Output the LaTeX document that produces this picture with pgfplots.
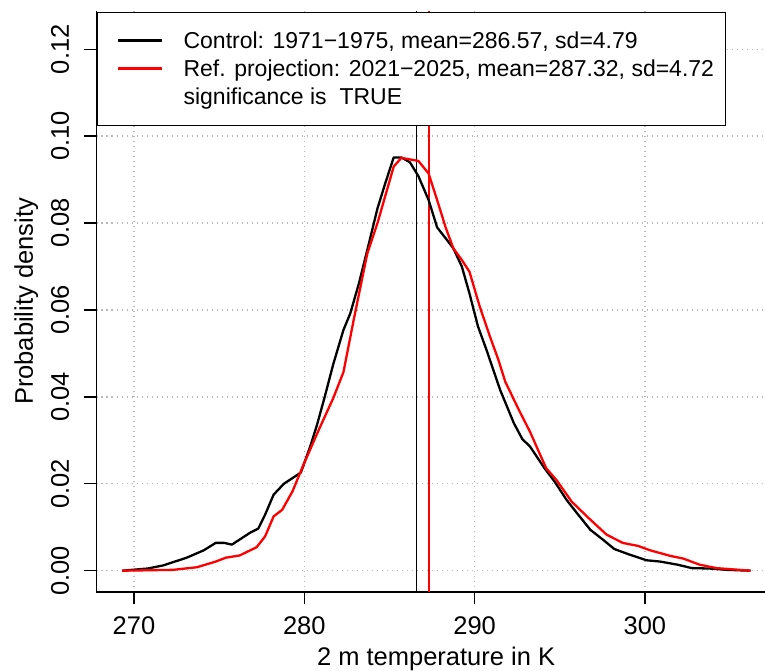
\documentclass[border=0pt]{standalone}
\usepackage{fontspec}
\setmainfont{Liberation Sans}
\usepackage{pgfplots}
\pgfplotsset{compat=1.18}
\begin{document}
\begin{tikzpicture}
\begin{scope}
\clip (-96.5pt,-79pt) rectangle (668.5pt,592pt);
\begin{axis}[
  at={(0pt,0pt)}, anchor=south west,
  scale only axis, width=679.2pt, height=581pt,
  xmin=267.8, xmax=307.68, ymin=-0.0049, ymax=0.1288,
  axis x line*=bottom, axis y line*=left,
  axis line style={-, line width=1.8pt, black},
  xtick={270,280,290,300},
  ytick={0,0.02,0.04,0.06,0.08,0.10,0.12},
  scaled y ticks=false,
  yticklabel style={/pgf/number format/fixed, /pgf/number format/fixed zerofill, /pgf/number format/precision=2},
  /pgf/number format/assume math mode=true,
  tick align=outside, major tick length=12pt,
  tick style={black, line width=1.3pt},
  ticklabel style={font=\fontsize{25.5}{30}\selectfont, inner sep=0pt},
  xticklabel style={anchor=north, yshift=-12.7pt},
  yticklabel style={rotate=90, anchor=south},
  yticklabel shift=15.2pt,
  grid=major,
  major grid style={dash pattern=on 1.3pt off 3.7pt, line width=1.3pt, color=black!28},
  xlabel={2 m temperature in K},
  ylabel={Probability density},
  label style={font=\fontsize{25.5}{30}\selectfont, inner sep=0pt},
  xlabel style={at={(rel axis cs:0.5,0)}, anchor=base, yshift=-73pt},
  ylabel style={at={([xshift=-63.5pt]rel axis cs:0,0.5)}, anchor=base},
  legend style={at={(rel axis cs:0,0.9983)}, anchor=north west, draw=black, line width=1.2pt, fill=white,
    inner xsep=11.3pt, inner ysep=15pt, row sep=1pt, column sep=20pt,
    font=\fontsize{23}{28}\selectfont,
    nodes={inner sep=0pt, text height=20.7pt, text depth=6.3pt, anchor=base west}},
  legend cell align=left,
  legend image code/.code={\path (0pt,0pt); \draw[#1] (8.9pt,7.7pt) -- (52.9pt,7.7pt);},
]
\addplot[black, line width=1.3pt, forget plot] coordinates {(286.57,-0.0049) (286.57,0.1288)};
\addplot[red, line width=1.3pt, forget plot] coordinates {(287.32,-0.0049) (287.32,0.1288)};
\addplot[black, line width=2.3pt, line join=round] coordinates {
(269.3,0) (270.8,0.0005) (271.7,0.0012) (273.1,0.0030) (274.1,0.0047) (274.8,0.0064)
(275.3,0.0064) (275.75,0.0060) (276.8,0.0087) (277.3,0.0097) (277.7,0.0129) (278.2,0.0175)
(278.8,0.0200) (279.8,0.0226) (280.35,0.0286) (280.75,0.0336) (281.2,0.0400) (281.7,0.0475)
(282.3,0.0554) (282.7,0.0592) (283.2,0.0660) (283.7,0.0738) (284.3,0.0834) (284.75,0.0891)
(285.25,0.0951) (285.7,0.0951) (286.2,0.0940) (286.7,0.0908) (287.3,0.0853) (287.8,0.0790)
(288.3,0.0765) (288.75,0.0742) (289.25,0.0700) (289.7,0.0638) (290.2,0.0562) (290.7,0.0508)
(291.5,0.0416) (292.3,0.0340) (292.8,0.0303) (293.25,0.0286) (294.1,0.0236) (294.7,0.0205)
(295.4,0.0163) (296.0,0.0133) (296.8,0.0094) (297.55,0.0071) (298.2,0.0050) (299.1,0.0037)
(300.1,0.0024) (300.9,0.0021) (301.9,0.0014) (302.75,0.0006) (303.8,0.0005) (304.8,0.0002)
(306.2,0)};
\addlegendentry{Control: 1971−1975, mean=286.57, sd=4.79}
\addplot[red, line width=2.3pt, line join=round] coordinates {
(269.3,0) (272.3,0.0002) (273.7,0.0008) (274.8,0.0021) (275.4,0.0030) (276.2,0.0035)
(277.2,0.0054) (277.7,0.0079) (278.2,0.0125) (278.7,0.0140) (279.3,0.0182) (280.0,0.0248)
(280.85,0.0324) (281.7,0.0397) (282.3,0.0457) (282.9,0.0577) (283.7,0.0730) (284.3,0.0800)
(285.25,0.0930) (285.7,0.0950) (286.7,0.0943) (287.3,0.0914) (287.8,0.0853) (288.3,0.0790)
(288.75,0.0742) (289.25,0.0715) (289.7,0.0688) (290.3,0.0608) (290.9,0.0539) (291.4,0.0485)
(291.8,0.0435) (292.6,0.0370) (293.25,0.0320) (294.2,0.0236) (294.8,0.0209) (295.7,0.0159)
(296.7,0.0121) (297.75,0.0083) (298.7,0.0064) (299.6,0.0057) (300.3,0.0047) (301.5,0.0034)
(302.25,0.0028) (303.2,0.0014) (304.2,0.0006) (306.2,0)};
\addlegendentry{Ref. projection: 2021−2025, mean=287.32, sd=4.72}
\addlegendimage{empty legend}
\addlegendentry{significance is~~TRUE}
\end{axis}
\end{scope}
\pgfresetboundingbox
\path[use as bounding box] (-96.5pt,-79pt) rectangle (668.5pt,592pt);
\end{tikzpicture}
\end{document}
